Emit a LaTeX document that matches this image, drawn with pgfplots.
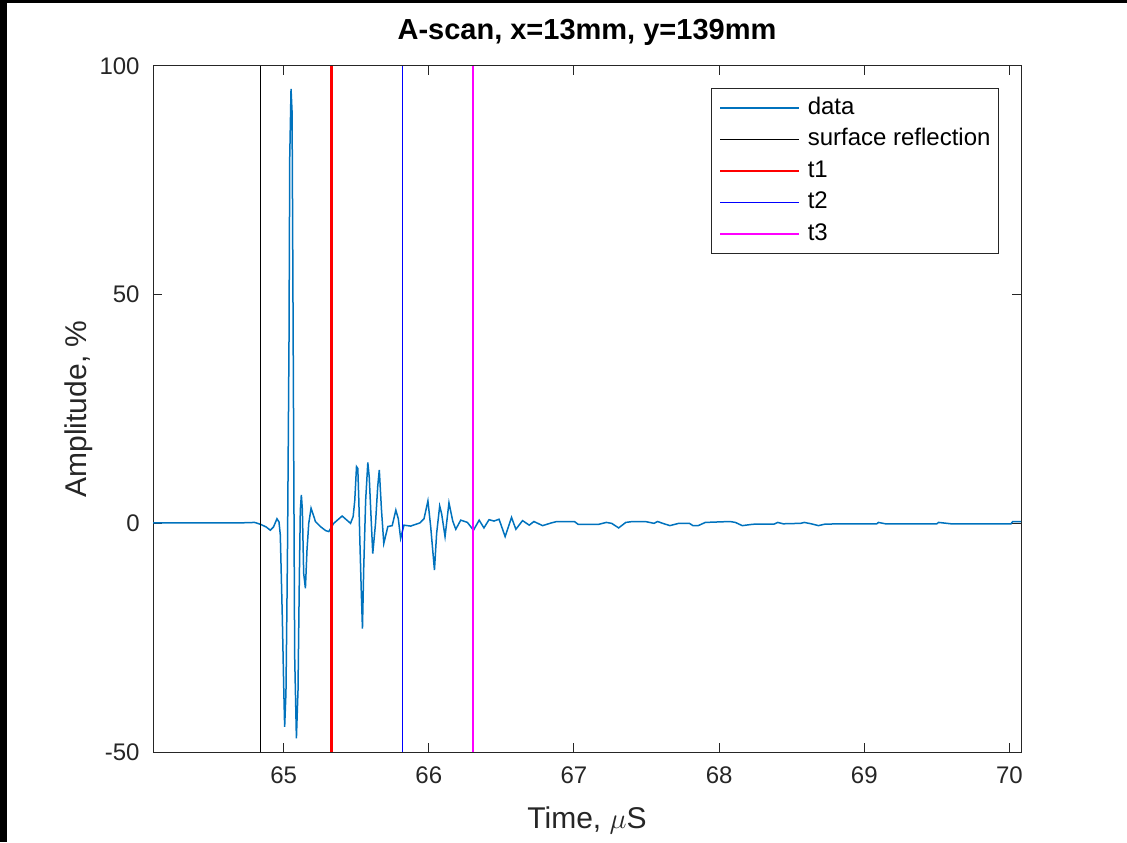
\documentclass[border=0pt]{standalone}
\usepackage{pgfplots}
\pgfplotsset{compat=1.18}
\usepackage{fontspec}
\setmainfont{Liberation Sans}
\definecolor{mblue}{rgb}{0,0.447,0.741}
\definecolor{agray}{rgb}{0.15,0.15,0.15}
\definecolor{mred}{rgb}{1,0,0}
\definecolor{mbl}{rgb}{0,0,1}
\definecolor{mmag}{rgb}{1,0,1}
\begin{document}
\begin{tikzpicture}
\begin{axis}[
  scale only axis, width=434pt, height=343pt,
  xmin=64.1, xmax=70.08, ymin=-50, ymax=100,
  xtick={65,66,67,68,69,70}, ytick={-50,0,50,100},
  tick align=inside, major tick length=4.5pt,
  axis line style={agray, line width=0.5pt},
  every tick/.style={agray, line width=0.5pt},
  every tick label/.append style={font=\fontsize{12}{14}\selectfont, text=agray},
  /pgf/number format/assume math mode=true,
  xticklabel style={anchor=center, inner sep=0pt, yshift=-11.5pt},
  yticklabel style={anchor=east, inner sep=0pt, xshift=-6.5pt},
  title={A-scan, x=13mm, y=139mm},
  title style={font=\bfseries\fontsize{14.5}{17}\selectfont, at={(axis description cs:0.5,1.032)}, anchor=center, inner sep=0pt},
  xlabel={Time, $\mu$S},
  xlabel style={font=\fontsize{15}{18}\selectfont, text=agray, at={(axis description cs:0.5,-0.0991)}, anchor=center, inner sep=0pt},
  ylabel={Amplitude, \%},
  ylabel style={font=\fontsize{15}{18}\selectfont, text=agray, at={(axis description cs:-0.0853,0.5)}, anchor=center, inner sep=0pt},
  legend style={at={(axis description cs:1,1)}, anchor=north east, xshift=-11pt, yshift=-11pt,
    draw=agray, line width=0.5pt, font=\fontsize{12}{14}\selectfont,
    inner xsep=4pt, inner ysep=4.1pt, row sep=4.45pt, column sep=4pt,
    nodes={inner sep=0pt, text height=8.8pt, text depth=2.5pt, anchor=west}},
  legend cell align=left,
  legend image code/.code={\draw[#1, line width=0.6pt] (0pt,0pt) -- (39.5pt,0pt);},
]
\addplot[mblue, line width=0.75pt] coordinates {
(64.10,0.1) (64.70,0.1) (64.80,0.2) (64.84,-0.2) (64.88,-0.8) (64.908,-1.5)
(64.93,-0.8) (64.954,1.0) (64.968,0.3) (64.977,-2.5) (64.982,-9) (64.991,-20.7)
(65.000,-35) (65.007,-44.5) (65.016,-37) (65.022,-20) (65.027,-4.3) (65.037,40)
(65.042,80) (65.051,95) (65.058,90) (65.062,65) (65.069,18) (65.076,-29)
(65.088,-47) (65.099,-36.5) (65.108,-12.4) (65.115,2.9) (65.122,6.2) (65.129,3)
(65.138,-10.9) (65.150,-14.2) (65.161,-5.8) (65.173,0) (65.189,3.3) (65.203,2)
(65.219,0.4) (65.253,-0.7) (65.29,-1.6) (65.311,-1.8) (65.345,0) (65.403,1.6)
(65.461,0) (65.479,1.5) (65.49,5) (65.502,12.4) (65.511,12) (65.518,5)
(65.525,-3.6) (65.535,-15) (65.543,-23) (65.552,-9.5) (65.565,5) (65.580,13.3)
(65.590,10) (65.599,3.6) (65.614,-6.6) (65.633,0) (65.648,8) (65.659,11.7)
(65.674,3) (65.690,-4.4) (65.718,-0.7) (65.748,-0.5) (65.773,2.9) (65.79,1)
(65.806,-3.3) (65.829,-0.4) (65.875,-0.6) (65.939,0.1) (65.967,1) (65.994,4.9)
(66.013,-0.7) (66.039,-10.2) (66.054,-2.2) (66.075,3.8) (66.089,2) (66.112,-2.9)
(66.139,4.5) (66.165,0.5) (66.186,-1.3) (66.220,0.7) (66.266,0.2) (66.308,-1.5)
(66.347,0.7) (66.380,-1) (66.415,0.8) (66.449,0.5) (66.484,0.9) (66.526,-2.9)
(66.570,1.3) (66.600,-1.3) (66.646,0.6) (66.692,-0.4) (66.724,0.4) (66.784,-0.5)
(66.845,0.1) (66.882,0.4) (67.003,0.4) (67.028,-0.2) (67.173,-0.2) (67.223,0.2)
(67.260,0) (67.308,-1.0) (67.357,0.2) (67.405,0.4) (67.491,0.4) (67.552,0)
(67.576,0.4) (67.612,0) (67.661,-0.5) (67.722,0) (67.795,0) (67.820,-0.5)
(67.856,-0.5) (67.905,0.2) (68.075,0.4) (68.112,0.2) (68.160,-0.5) (68.233,-0.2)
(68.380,-0.15) (68.404,0.2) (68.441,-0.1) (68.562,0) (68.586,0.2) (68.635,-0.1)
(68.684,-0.5) (68.733,-0.15) (69.086,-0.1) (69.098,0.2) (69.146,-0.1) (69.500,-0.1)
(69.512,0.2) (69.597,-0.1) (70.011,-0.1) (70.023,0.4) (70.08,0.4)
};
\addlegendentry{data}
\addplot[black, line width=0.6pt] coordinates {(64.84,-50) (64.84,100)};
\addlegendentry{surface reflection}
\addplot[mred, line width=1.4pt] coordinates {(65.33,-50) (65.33,100)};
\addlegendentry{t1}
\addplot[mbl, line width=0.6pt] coordinates {(65.82,-50) (65.82,100)};
\addlegendentry{t2}
\addplot[mmag, line width=1pt] coordinates {(66.305,-50) (66.305,100)};
\addlegendentry{t3}
\end{axis}
\fill[black] (-76.5pt,-45pt) rectangle (-73pt,376pt);
\fill[black] (-76.5pt,374.5pt) rectangle (487pt,376pt);
\path[use as bounding box] (-76.5pt,-45pt) rectangle (487pt,376pt);
\end{tikzpicture}
\end{document}
